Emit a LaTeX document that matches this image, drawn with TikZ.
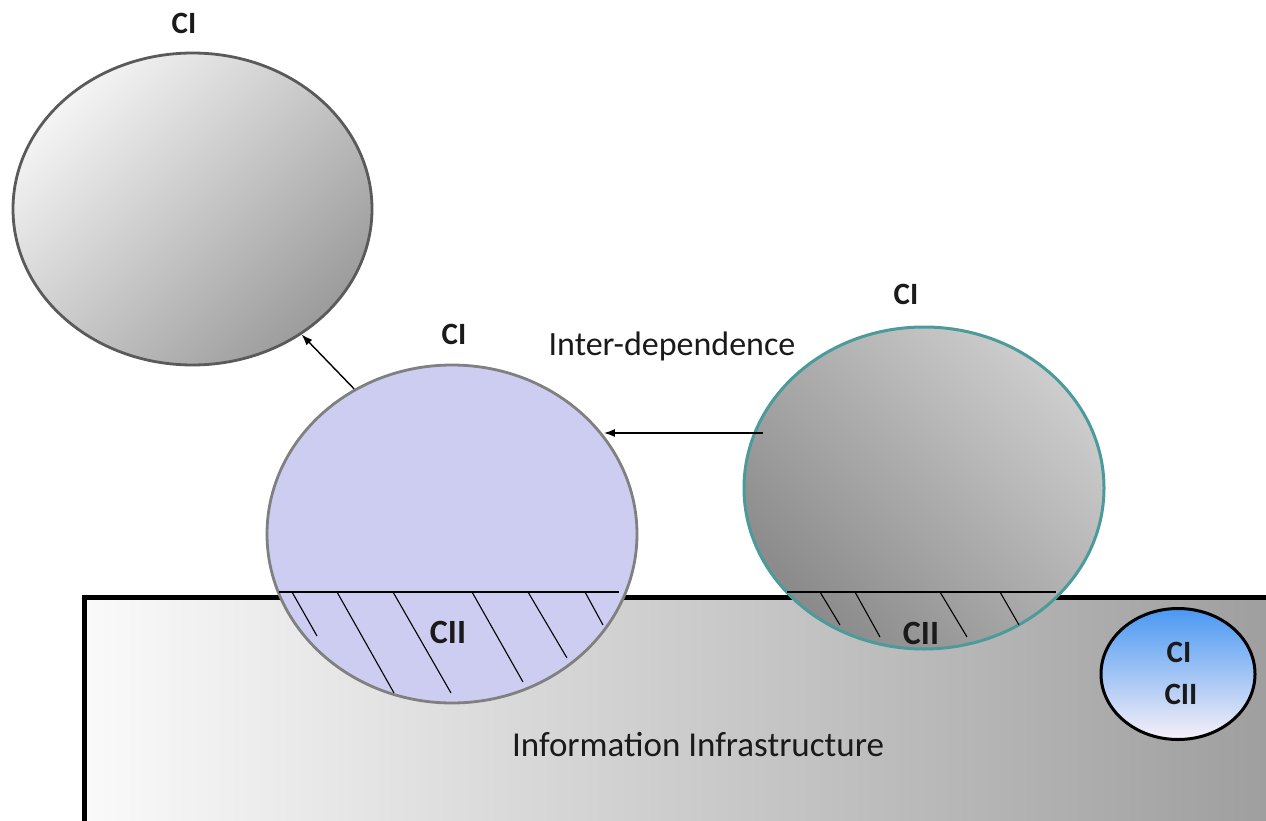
\documentclass[tikz,border=0pt]{standalone}
\usepackage{fontspec}
\setmainfont{Carlito}
\usetikzlibrary{shapes.geometric,arrows.meta}
\definecolor{lav}{HTML}{CDCDF1}
\definecolor{txt}{HTML}{1A1A1A}
\definecolor{tlA}{HTML}{F4F4F4}
\definecolor{tlM}{HTML}{D6D6D6}
\definecolor{tlB}{HTML}{9C9C9C}
\definecolor{tlD}{HTML}{5A5A5A}
\definecolor{rgA}{HTML}{CDCDCD}
\definecolor{rgB}{HTML}{8A8A8A}
\definecolor{teal2}{HTML}{4B9B9B}
\definecolor{midD}{HTML}{808080}
\definecolor{smA}{HTML}{4A98F2}
\definecolor{smB}{HTML}{F8F0F8}
\definecolor{boxA}{HTML}{FAFAFA}
\definecolor{boxB}{HTML}{9E9E9E}
\begin{document}
\begin{tikzpicture}[x=1pt,y=-1pt,
  oval/.style={ellipse, inner sep=0pt, draw},
  lbl/.style={font=\fontsize{31}{36}\selectfont\bfseries, text=txt, anchor=base, inner sep=0pt},
  lbltwo/.style={font=\fontsize{34}{40}\selectfont\bfseries, text=txt, anchor=base, inner sep=0pt},
  big/.style={font=\fontsize{34}{40}\selectfont, text=txt, anchor=base, inner sep=0pt},
  hatchline/.style={line width=1.1pt, black},
  arr/.style={line width=1.4pt, -{Latex[length=11pt,width=8pt]}}]
\useasboundingbox (0,0) rectangle (1266,821);
\clip (0,0) rectangle (1266,821);
\fill[white] (0,0) rectangle (1266,821);
% information infrastructure box
\node[draw=black, line width=4.5pt, left color=boxA, right color=boxB,
  minimum width=1195pt, minimum height=226pt, anchor=north west, inner sep=0pt] (infra) at (82,595) {};
% ellipses
\node[oval, draw=tlD, line width=2.8pt, top color=tlA, middle color=tlM, bottom color=tlB, shading angle=45,
  minimum width=359pt, minimum height=312pt] (a) at (192.5,209) {};
\node[oval, draw=midD, line width=2.8pt, fill=lav,
  minimum width=370pt, minimum height=338pt] (b) at (452,534) {};
\node[oval, draw=teal2, line width=3pt, top color=rgA, bottom color=rgB, shading angle=-45,
  minimum width=360pt, minimum height=322pt] (c) at (924,488) {};
\node[oval, draw=black, line width=3pt, top color=smA, bottom color=smB,
  minimum width=154pt, minimum height=131pt] (d) at (1178,674) {};
% dividing lines and hatching in middle ellipse
\draw[hatchline] (279,592) -- (619,592);
\draw[hatchline] (292,592) -- (317,636);
\draw[hatchline] (337,592) -- (394,693);
\draw[hatchline] (393,592) -- (451,693);
\draw[hatchline] (472,592) -- (523,682);
\draw[hatchline] (528,592) -- (567,658);
\draw[hatchline] (585,592) -- (603,625);
% dividing lines and hatching in right ellipse
\draw[hatchline] (787,592) -- (1056,592);
\draw[hatchline] (820,592) -- (840,625);
\draw[hatchline] (855,592) -- (880,637);
\draw[hatchline] (940,592) -- (967,637);
\draw[hatchline] (1000,592) -- (1019,625);
% arrows
\draw[arr] (b.124) -- (a.-49);
\coordinate (hs) at (763,433);
\draw[arr] (hs) -- (hs -| b.33);
% labels
\node[lbl] (l1) at (184,34) {CI};
\node[lbl] (l2) at (454,344) {CI};
\node[big] (dep) at (672,355) {Inter-dependence};
\node[lbl] (l3) at (906,304) {CI};
\node[lbltwo] (c1) at (448,643) {CII};
\node[lbltwo] (c2) at (921,644) {CII};
\node[lbl] (s1) at (1179,662) {CI};
\node[lbl] (s2) at (1181,704) {CII};
\node[big] (info) at (698,756) {\fontsize{35}{40}\selectfont Information Infrastructure};
\end{tikzpicture}
\end{document}
